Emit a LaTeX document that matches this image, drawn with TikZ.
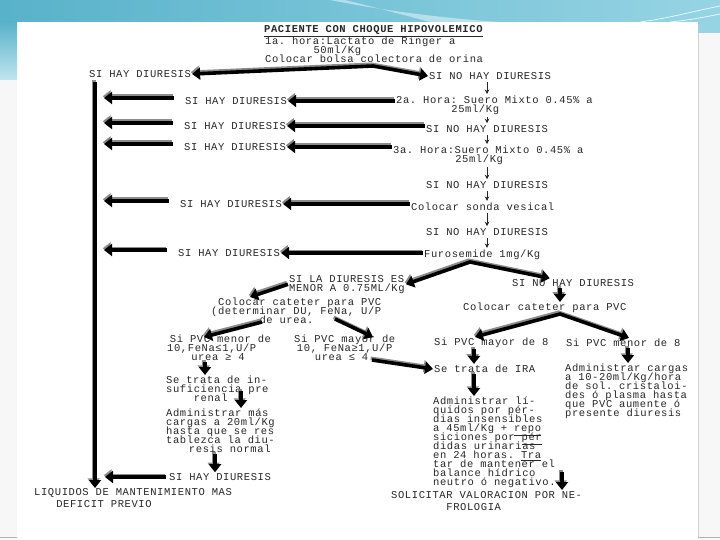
\documentclass[tikz,border=0pt]{standalone}
\usepackage{fontspec}
\setmonofont{Liberation Mono}[LetterSpace=5.7]
\usetikzlibrary{arrows.meta,calc}
\newdimen\chw \chw=6.9pt
\newcommand{\ind}[1]{\hspace*{#1\chw}}
\newcommand{\mfont}{\ttfamily\fontsize{10.5}{9}\selectfont\lineskiplimit=-100pt\lineskip=0pt}
\definecolor{bandA}{RGB}{88,178,202}
\definecolor{bandB}{RGB}{150,212,228}
\definecolor{ink}{RGB}{40,40,40}
\tikzset{hd/.tip={Triangle[length=8pt,width=12pt]}}
\begin{document}
\begin{tikzpicture}[x=1pt,y=-1pt,
  txt/.style={font=\mfont, text=ink, inner sep=1pt},
  blk/.style={txt, align=left, anchor=north west},
  lab/.style={txt, anchor=west},
  fat/.style={line width=3.6pt, black, #1,
    preaction={draw=black!45, line width=3.6pt, #1, transform canvas={shift={(-1.3pt,1.7pt)}}}},
  fat/.default={-hd},
  thinarr/.style={line width=0.7pt, black!85, -{Stealth[length=4.5pt,width=4.5pt]}, shorten <=1pt, shorten >=1pt},
]
\useasboundingbox (0,0) rectangle (720,540);
% ---------- slide background ----------
\fill[white] (0,0) rectangle (720,540);
\fill[gray!6] (0,80) rectangle (17,540);
\fill[gray!6] (698,33) rectangle (720,540);
\draw[gray!35, line width=0.6pt] (698,33) -- (698,537);
\fill[left color=bandA, right color=bandB] (0,0) rectangle (720,22);
\fill[top color=bandA, bottom color=bandB!60] (0,22) rectangle (17,80);
\fill[bandB] (698,22) rectangle (720,33);
\fill[white, opacity=0.45] (330,0) .. controls (380,10) and (440,18) .. (500,22) -- (430,22) .. controls (400,14) and (370,6) .. (345,0) -- cycle;
\draw[white, line width=0.8pt, opacity=0.8] (720,6) .. controls (690,12) and (670,18) .. (640,22);
\draw[white, line width=0.8pt, opacity=0.8] (720,14) .. controls (700,18) and (690,20) .. (670,22);
\draw[gray!60, line width=0.8pt] (0,537) -- (17,537);
\draw[gray!60, line width=0.8pt] (698,537) -- (720,537);

% ---------- top ----------
\node[lab, font=\mfont\bfseries] (title) at (263,31) {\underline{PACIENTE CON CHOQUE HIPOVOLEMICO}};
\node[blk] (h1) at (264,35.5) {1a. hora:Lactato de Ringer a\\\ind{7}50ml/Kg\\Colocar bolsa colectora de orina};
\node[lab] (syes0) at (88,74) {SI HAY DIURESIS};
\node[lab] (sno1) at (428,76) {SI NO HAY DIURESIS};
\coordinate (ap1) at (373,66);
\draw[fat=hd-hd] (syes0.east) -- (ap1) -- (sno1.west);

% ---------- right column ----------
\node[blk] (h2) at (395,95) {2a. Hora: Suero Mixto 0.45\% a\\\ind{8}25ml/Kg};
\node[lab] (sno2) at (425,129) {SI NO HAY DIURESIS};
\node[blk] (h3) at (392,145) {3a. Hora:Suero Mixto 0.45\% a\\\ind{9}25ml/Kg};
\node[lab] (sno3) at (425,185) {SI NO HAY DIURESIS};
\node[lab] (sonda) at (410,207) {Colocar sonda vesical};
\node[lab] (sno4) at (425,232) {SI NO HAY DIURESIS};
\node[lab] (furo) at (423,255) {Furosemide 1mg/Kg};

\coordinate (cx) at (487,0);
\draw[thinarr] (sno1.south -| cx) -- (h2.north -| cx);
\draw[thinarr] (h2.south -| cx) -- (sno2.north -| cx);
\draw[thinarr] (sno2.south -| cx) -- (h3.north -| cx);
\draw[thinarr] (h3.south -| cx) -- (sno3.north -| cx);
\draw[thinarr] (sno3.south -| cx) -- (sonda.north -| cx);
\draw[thinarr] (sonda.south -| cx) -- (sno4.north -| cx);
\draw[thinarr] (sno4.south -| cx) -- (furo.north -| cx);

% ---------- left labels ----------
\node[lab] (l1) at (184,101) {SI HAY DIURESIS};
\node[lab] (l2) at (183,126) {SI HAY DIURESIS};
\node[lab] (l3) at (183,147) {SI HAY DIURESIS};
\node[lab] (l4) at (179,204) {SI HAY DIURESIS};
\node[lab] (l5) at (177,253) {SI HAY DIURESIS};

\draw[fat] (l1 -| h2.west) -- (l1.east);
\draw[fat] (l2 -| sno2.west) -- (l2.east);
\draw[fat] (l3 -| h3.west) -- (l3.east);
\draw[fat] (l4 -| sonda.west) -- (l4.east);
\draw[fat] (l5 -| furo.west) -- (l5.east);

\coordinate (vt) at (95,82);
\coordinate (vb) at (95,488);
\draw[fat] (vt) -- (vb);
\foreach \n in {l1,l2,l3,l4,l5}{
  \draw[fat] ([shift={(-10,-3)}]\n.west) -- ([shift={(9,-3)}]\n.west -| vt);
}

% ---------- middle split ----------
\node[blk] (sila) at (288,274) {SI LA DIURESIS ES\\MENOR A 0.75ML/Kg};
\node[lab] (sno5) at (511,283) {SI NO HAY DIURESIS};
\coordinate (ap2) at (470,262);
\draw[fat=hd-hd] (sila.east) -- (ap2) -- (sno5);

% left branch
\node[blk] (cat1) at (210,297) {\ind{1}Colocar cateter para PVC\\(determinar DU, FeNa, U/P\\\ind{7}de urea.};
\draw[fat] (sila.west) -- ([xshift=40pt]cat1.north west);
\node[blk] (men1) at (166,334) {\ind{0.4}Si PVC menor de\\10,FeNa≤1,U/P\\\ind{3.5}urea ≥ 4};
\node[blk] (may1) at (293,334) {Si PVC mayor de\\\ind{0.4}10, FeNa≥1,U/P\\\ind{3}urea ≤ 4};
\draw[fat] ($(cat1.north west)+(52,25)$) -- ($(men1.north west)+(38,3)$);
\draw[fat] ($(cat1.north west)+(125,22)$) -- ($(may1.north west)+(80,3)$);

\node[blk] (pre) at (165,375) {Se trata de in-\\suficiencia pre\\\ind{4}renal};
\coordinate (px) at (205,0);
\draw[fat] (men1.south -| px) -- (pre.north -| px);
\node[blk] (adm1) at (165,408) {Administrar más\\cargas a 20ml/Kg\\hasta que se res\\tablezca la diu-\\\ind{3.3}resis normal};
\coordinate (cpre) at (241,391);
\draw[fat] (cpre) -- (adm1.north -| cpre);
\node[lab] (syes6) at (168,477) {SI HAY DIURESIS};
\coordinate (qx) at (215,0);
\draw[fat] (adm1.south -| qx) -- (syes6.north -| qx);
\draw[fat] ([xshift=-2pt]syes6.west) -- ([xshift=10pt]syes6.west -| vt);
\node[blk] (liq) at (33,487) {LIQUIDOS DE MANTENIMIENTO MAS\\[3pt]\ind{3.2}DEFICIT PREVIO};

% right branch
\node[lab] (cat2) at (462,308) {Colocar cateter para PVC};
\coordinate (rx) at (560,0);
\draw[fat] (sno5.south -| rx) -- (cat2.north -| rx);
\node[lab] (may2) at (433,343) {Si PVC mayor de 8};
\node[lab] (men2) at (565,343) {Si PVC menor de 8};
\coordinate (ap3) at (560,314);
\draw[fat=hd-hd] ($(may2.north west)+(42,0)$) -- (ap3) -- ($(men2.north west)+(64,0)$);

\node[lab] (ira) at (433,369) {Se trata de IRA};
\draw[fat] ($(may1.north west)+(79,26)$) -- (ira.west);
\coordinate (mx) at (474,0);
\draw[fat] (may2.south -| mx) -- (ira.north -| mx);
\node[blk] (adm2) at (432,396) {Administrar lí-\\quidos por pér-\\dias insensibles\\a 45ml/Kg + \underline{repo}\\siciones por \underline{pér}\\didas urinarias\\en 24 horas. \underline{Tra}\\tar de mantener el\\balance hídrico\\neutro ó negativo.};
\draw[fat] (ira.south -| mx) -- (adm2.north -| mx);

\node[blk] (adm3) at (564,363) {Administrar cargas\\a 10-20ml/Kg/hora\\de sol. cristaloi-\\des ó plasma hasta\\que PVC aumente ó\\presente diuresis};
\coordinate (nx) at (628,0);
\draw[fat] (men2.south -| nx) -- (adm3.north -| nx);

\node[blk] (sol) at (390,490) {SOLICITAR VALORACION POR NE-\\[3pt]\ind{8}FROLOGIA};
\coordinate (cneg) at (562,472);
\draw[fat] (cneg) -- (sol.north -| cneg);
\end{tikzpicture}
\end{document}
